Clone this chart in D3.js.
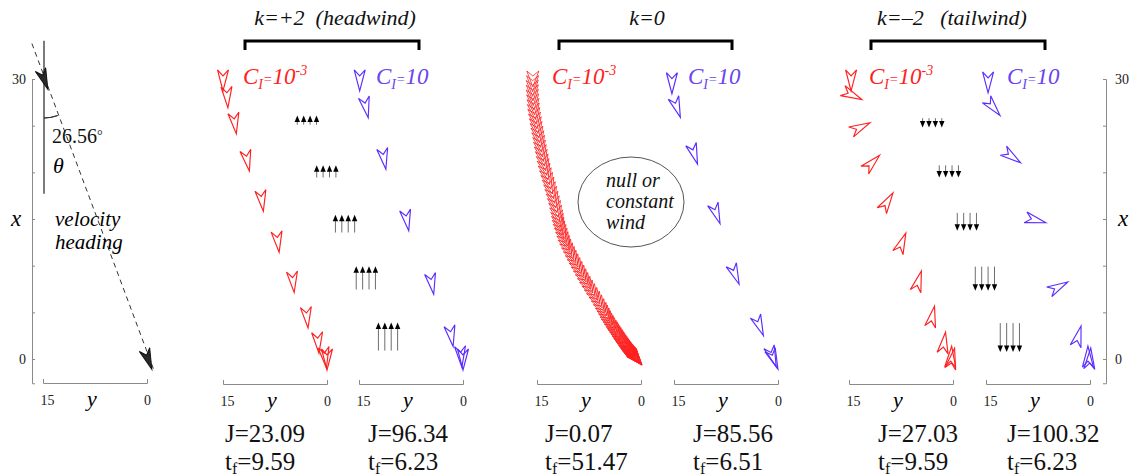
<!DOCTYPE html>
<html>
<head>
<meta charset="utf-8">
<script src="https://cdn.jsdelivr.net/npm/d3@7"></script>
<style>
  body { margin: 0; background: #fff; }
  svg { display: block; }
  svg text { font-family: "Liberation Serif", "Times New Roman", Times, "DejaVu Serif", "Noto Serif", serif !important; }
  .axis path, .axis line { stroke: #8a8a8a; stroke-width: 1; }
  .axis text { font-size: 14px; fill: #222; }
  .it { font-style: italic; }
</style>
</head>
<body>
<svg id="chart" width="1134" height="476"></svg>
<script>
// ---- data (y = cross range, x = altitude, h = marker heading in deg from "down" toward y=0) ----

// k = +2 (headwind)
var headLowY  = [15.0, 14.4, 13.3, 11.5, 9.4, 7.1, 4.9, 2.9, 1.3, 0.3, 0.0];
var headLowX  = [29.9, 28.1, 25.3, 21.3, 17.0, 12.6, 8.3, 4.5, 1.8, 0.2, 0.0];
var headLowH  = [0, 4, 8, 11, 8, 7, 6, 6, 5, 8, 0];
var headHighY = [14.9, 14.0, 11.4, 8.1, 4.5, 1.7, 0.3, 0.0];
var headHighX = [29.9, 27.0, 21.5, 14.9, 8.1, 2.5, 0.3, 0.0];
var headHighH = [0, 12, 10, 10, 10, 10, 5, 0];

// k = 0 (null or constant wind)
var nullLowX = [30, 29.5, 29, 28.5, 28, 27.5, 27, 26.5, 26, 25.5, 25, 24.5, 24, 23.5, 23, 22.5, 22, 21.5, 21, 20.5,
  20, 19.5, 19, 18.5, 18, 17.5, 17, 16.5, 16, 15.5, 15,
  14.6, 14.2, 13.8, 13.4, 13.0, 12.6, 12.2, 11.8, 11.4, 11.0, 10.6, 10.2, 9.8, 9.4, 9.0, 8.6, 8.2, 7.8, 7.4, 7.0,
  6.6, 6.2, 5.8, 5.4, 5.0,
  4.7, 4.4, 4.1, 3.85, 3.6, 3.35, 3.1, 2.9, 2.7, 2.5, 2.3, 2.1, 1.95, 1.8, 1.65, 1.5, 1.35, 1.2, 1.08, 0.96,
  0.85, 0.75, 0.65, 0.56, 0.48, 0.4, 0.33, 0.27, 0.21, 0.16, 0.12, 0.08, 0.05, 0.03, 0.01, 0];
var nullLowY = [15.6, 15.63, 15.65, 15.63, 15.6, 15.53, 15.45, 15.38, 15.3, 15.18, 15.05, 14.93, 14.8, 14.68, 14.55,
  14.43, 14.3, 14.15, 14.0, 13.85, 13.7, 13.5, 13.3, 13.1, 12.9, 12.73, 12.55, 12.38, 12.2, 12.05, 11.9,
  11.78, 11.66, 11.5, 11.3, 11.1, 10.9, 10.7, 10.46, 10.18, 9.9, 9.62, 9.34, 9.05, 8.75, 8.45, 8.15, 7.85, 7.53,
  7.19, 6.85, 6.51, 6.17, 5.85, 5.55, 5.25,
  5.03, 4.8, 4.58, 4.37, 4.14, 3.92, 3.69, 3.51, 3.33, 3.15, 2.97, 2.79, 2.65, 2.5, 2.35, 2.2, 2.05, 1.9, 1.78,
  1.66, 1.54, 1.43, 1.32, 1.22, 1.13, 1.04, 0.96, 0.9, 0.83, 0.78, 0.73, 0.69, 0.66, 0.63, 0.61, 0.6];
var nullHighY = [15.3, 14.6, 12.1, 8.9, 6.2, 2.7, 0.8, 0.6];
var nullHighX = [29.6, 27.0, 22.0, 15.6, 9.1, 3.6, 0.3, 0.0];
var nullHighH = [0, 19, 18, 20, 22, 22, 20, 22];

// k = -2 (tailwind)
var tailLowY  = [14.7, 14.6, 13.4, 11.7, 9.5, 7.4, 5.0, 3.0, 1.3, 0.3, 0.1];
var tailLowX  = [29.9, 28.3, 24.8, 21.0, 16.8, 12.4, 8.3, 4.5, 1.7, 0.2, 0.0];
var tailLowH  = [0, 65, 116, 135, 148, 158, 164, 168, 172, 176, 168];
var tailHighY = [14.7, 14.0, 11.3, 7.9, 4.6, 1.7, 0.3, 0.0];
var tailHighX = [29.7, 27.0, 21.7, 14.9, 7.7, 2.4, 0.2, 0.0];
var tailHighH = [0, 40, 55, 75, 118, 165, 180, 176];

// wind profile arrows
var windUpY   = [2.9, 0.1, -2.6, -5.6, -8.8];
var windUpX   = [25.6, 20.1, 14.5, 8.7, 2.4];
var windUpLen = [1.0, 1.3, 1.9, 2.5, 3.0];
var windDownY   = [3.0, 0.6, -2.0, -4.6, -8.2];
var windDownX   = [25.3, 20.1, 14.7, 8.6, 2.3];
var windDownLen = [1.0, 1.3, 1.9, 2.6, 3.1];

// velocity heading sketch
var headingLineY  = [16.6, -1.1];
var headingLineX  = [33.8, -1.4];
var headingMarksY = [15, 0];
var headingMarksX = [30, 0];
var headingDeg = "26.56";

var jValues  = [23.09, 96.34, 0.07, 85.56, 27.03, 100.32];
var tfValues = [9.59, 6.23, 51.47, 6.51, 9.59, 6.23];
var kTitles  = ["k=+2\u00a0\u00a0(headwind)", "k=0", "k=\u20132\u00a0\u00a0\u00a0(tailwind)"];
var xTicks = [0, 5, 10, 15, 20, 25, 30];

// ---- layout ----
var svg = d3.select("#chart");
var red = "#ff1f1f", blue = "#5b2cff";
var fmt = d3.format(".2f");

var x = d3.scaleLinear().domain([0, 30]).range([359, 79]);
var xAxisScale = d3.scaleLinear().domain([-2.6, 30]).range([x(-2.6), x(30)]);
var panelLeft = [223, 359, 537, 674, 849, 986];
function yScaleAt(left) {
  return d3.scaleLinear().domain([15, 0]).range([left, left + 104]);
}
var ys = panelLeft.map(yScaleAt);
var y0 = yScaleAt(43);

var arrowShape = "M0,11L5.5,-10L0,-4L-5.5,-10Z";
var chainShape = "M0,8L6,-8L0,-3L-6,-8Z";

function bottomAxis(sy, yPos) {
  var g = svg.append("g").attr("class", "axis").attr("transform", "translate(0," + yPos + ")")
    .call(d3.axisBottom(sy).tickValues([15, 0]).tickSize(-4).tickSizeOuter(-4).tickPadding(12).tickFormat(d3.format("d")));
  g.selectAll(".tick text").attr("dx", function (d) { return d === 15 ? 4 : 0; });
  svg.append("text").attr("class", "it").attr("x", sy(15) + 49).attr("y", yPos + 23)
    .attr("text-anchor", "middle").attr("font-size", 22).text("y");
}

function markers(sy, yv, xv, hv, color) {
  var pts = yv.map(function (v, i) { return { px: sy(v), py: x(xv[i]) }; });
  pts.forEach(function (p, i) {
    if (hv) { p.h = hv[i]; return; }
    var a = pts[Math.max(0, i - 3)], b = pts[Math.min(pts.length - 1, i + 3)];
    p.h = i === 0 ? 0 : Math.atan2(b.px - a.px, b.py - a.py) * 180 / Math.PI;
  });
  svg.append("g").selectAll("path").data(pts).enter().append("path")
    .attr("d", hv ? arrowShape : chainShape)
    .attr("transform", function (d) { return "translate(" + d.px + "," + d.py + ") rotate(" + (-d.h) + ")"; })
    .attr("fill", "none").attr("stroke", color).attr("stroke-width", hv ? 1.15 : 0.8);
}

function wind(sy, yv, xv, lens, up) {
  var arrows = [];
  yv.forEach(function (v, i) {
    var top = x(xv[i] + lens[i] / 2), bot = x(xv[i] - lens[i] / 2);
    for (var j = 0; j < 4; j++) {
      arrows.push({ px: sy(v) + (j - 1.5) * 6.4, head: up ? top : bot, tail: up ? bot : top });
    }
  });
  var g = svg.append("g");
  g.selectAll("line").data(arrows).enter().append("line")
    .attr("x1", function (d) { return d.px; }).attr("x2", function (d) { return d.px; })
    .attr("y1", function (d) { return d.tail; })
    .attr("y2", function (d) { return d.head + (up ? 5 : -5); })
    .attr("stroke", "#6e6e6e").attr("stroke-width", 1);
  g.selectAll("path").data(arrows).enter().append("path")
    .attr("d", function (d) {
      var b = d.head + (up ? 6.5 : -6.5);
      return "M" + d.px + "," + d.head + "L" + (d.px - 2.7) + "," + b + "L" + (d.px + 2.7) + "," + b + "Z";
    })
    .attr("fill", "#000");
}

function ciLabel(xPos, color, exp) {
  var t = svg.append("text").attr("class", "it").attr("x", xPos).attr("y", 84).attr("fill", color);
  t.append("tspan").attr("font-size", 23).text("C");
  t.append("tspan").attr("font-size", 14).attr("dy", 5).text("I");
  t.append("tspan").attr("font-size", 14).attr("dy", -5).text("=");
  t.append("tspan").attr("font-size", 23).text("10");
  if (exp) t.append("tspan").attr("font-size", 14).attr("dy", -9).text(exp);
}

// ---- left sketch: velocity heading ----
svg.append("g").attr("class", "axis").attr("transform", "translate(32,0)")
  .call(d3.axisLeft(xAxisScale).tickValues(xTicks).tickSize(-3).tickSizeOuter(-3).tickPadding(6)
    .tickFormat(function (d) { return d === 30 || d === 0 ? d : ""; }));
bottomAxis(y0, 383);
svg.append("text").attr("class", "it").attr("x", 16).attr("y", 226).attr("text-anchor", "middle")
  .attr("font-size", 23).text("x");

svg.append("line")
  .attr("x1", y0(headingLineY[0])).attr("y1", x(headingLineX[0]))
  .attr("x2", y0(headingLineY[1])).attr("y2", x(headingLineX[1]))
  .attr("stroke", "#333").attr("stroke-width", 1).attr("stroke-dasharray", "5,4");
svg.append("line")
  .attr("x1", y0(15) + 1).attr("y1", x(34.1)).attr("x2", y0(15) + 1).attr("y2", x(17.7))
  .attr("stroke", "#444").attr("stroke-width", 1.4);

var lineAng = Math.atan2(y0(headingLineY[1]) - y0(headingLineY[0]), x(headingLineX[1]) - x(headingLineX[0]));
svg.append("path")
  .attr("transform", "translate(" + (y0(15) + 1) + "," + x(30) + ")")
  .attr("d", d3.arc()({ innerRadius: 39, outerRadius: 39, startAngle: Math.PI - lineAng, endAngle: Math.PI }))
  .attr("fill", "none").attr("stroke", "#333").attr("stroke-width", 1);

svg.append("g").selectAll("path").data(headingMarksY).enter().append("path")
  .attr("d", arrowShape)
  .attr("transform", function (d, i) {
    return "translate(" + (y0(d) + 1) + "," + x(headingMarksX[i]) + ") rotate(" + (-lineAng * 180 / Math.PI) + ")";
  })
  .attr("fill", "#2a2a2a").attr("stroke", "#111").attr("stroke-width", 1);

var deg = svg.append("text").attr("x", 52).attr("y", 143).attr("font-size", 20).attr("fill", "#111");
deg.append("tspan").text(headingDeg);
deg.append("tspan").attr("font-size", 14).attr("dy", -3).text("\u00b0");
svg.append("text").attr("class", "it").attr("x", 53).attr("y", 173).attr("font-size", 22).text("\u03b8");
svg.append("text").attr("class", "it").attr("x", 55).attr("y", 226).attr("font-size", 21).text("velocity");
svg.append("text").attr("class", "it").attr("x", 55).attr("y", 249).attr("font-size", 21).text("heading");

// ---- right altitude axis ----
svg.append("g").attr("class", "axis").attr("transform", "translate(1106,0)")
  .call(d3.axisRight(xAxisScale).tickValues(xTicks).tickSize(-3).tickSizeOuter(-3).tickPadding(9)
    .tickFormat(function (d) { return d === 30 || d === 0 ? d : ""; }));
svg.append("text").attr("class", "it").attr("x", 1123).attr("y", 226).attr("text-anchor", "middle")
  .attr("font-size", 23).text("x");

// ---- panels ----
var series = [
  [headLowY, headLowX, headLowH, red],
  [headHighY, headHighX, headHighH, blue],
  [nullLowY, nullLowX, null, red],
  [nullHighY, nullHighX, nullHighH, blue],
  [tailLowY, tailLowX, tailLowH, red],
  [tailHighY, tailHighX, tailHighH, blue]
];
series.forEach(function (s, i) {
  bottomAxis(ys[i], 384);
  markers(ys[i], s[0], s[1], s[2], s[3]);
});

wind(ys[0], windUpY, windUpX, windUpLen, true);
wind(ys[4], windDownY, windDownX, windDownLen, false);

// titles and brackets
var titleX = [335, 647, 952];
var brackets = [[245, 419], [559, 732], [871, 1045]];
kTitles.forEach(function (t, i) {
  svg.append("text").attr("class", "it").attr("x", titleX[i]).attr("y", 25)
    .attr("text-anchor", "middle").attr("font-size", 22).attr("fill", "#111").text(t);
  var b = brackets[i];
  svg.append("path")
    .attr("d", "M" + b[0] + ",50V41H" + b[1] + "V50")
    .attr("fill", "none").attr("stroke", "#000").attr("stroke-width", 3);
});

var ciRedX = [243, 552, 869], ciBlueX = [376, 688, 1007];
ciRedX.forEach(function (v) { ciLabel(v, red, "-3"); });
ciBlueX.forEach(function (v) { ciLabel(v, "#6a44f0", null); });

// null wind bubble
svg.append("ellipse").attr("cx", 631).attr("cy", 202).attr("rx", 53).attr("ry", 45)
  .attr("fill", "none").attr("stroke", "#555").attr("stroke-width", 1);
["null or", "constant", "wind"].forEach(function (t, i) {
  svg.append("text").attr("class", "it").attr("x", 606).attr("y", 187 + i * 21)
    .attr("font-size", 20).attr("fill", "#111").text(t);
});

// cost and final time
var labelX = [225, 368, 545, 693, 878, 1007];
jValues.forEach(function (v, i) {
  svg.append("text").attr("x", labelX[i]).attr("y", 442).attr("font-size", 25).attr("fill", "#111")
    .text("J=" + fmt(v));
  var t = svg.append("text").attr("x", labelX[i]).attr("y", 470).attr("font-size", 25).attr("fill", "#111");
  t.append("tspan").text("t");
  t.append("tspan").attr("font-size", 16).attr("dy", 4).text("f");
  t.append("tspan").attr("dy", -4).text("=" + fmt(tfValues[i]));
});
</script>
</body>
</html>
